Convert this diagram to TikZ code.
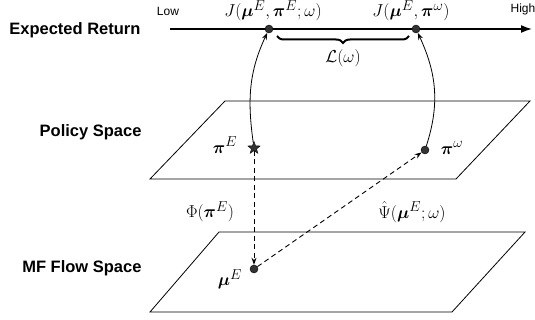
\documentclass[tikz,border=0pt]{standalone}
\usepackage{amsmath,amssymb}
\usepackage{fontspec}
\setsansfont{Liberation Sans}
\usetikzlibrary{arrows.meta,positioning,calc,shapes.geometric,decorations.pathreplacing}

\begin{document}
\begin{tikzpicture}[
  x=1pt, y=-1pt,
  rowlabel/.style={anchor=east, font=\sffamily\bfseries\fontsize{16.5}{18}\selectfont},
  endlabel/.style={font=\sffamily\fontsize{12}{14}\selectfont},
  mathlabel/.style={font=\fontsize{19}{21}\selectfont},
  dot/.style={circle, fill=black!80, draw=black, minimum size=8pt, inner sep=0pt},
  starpt/.style={star, star points=5, star point ratio=2.4, fill=black!80, draw=black, minimum size=13pt, inner sep=0pt},
  plane/.style={draw, line width=0.8pt},
  arrow/.style={-{Stealth[length=7pt,width=5pt]}, line width=0.8pt},
  dasharrow/.style={-{Stealth[length=7pt,width=5pt]}, line width=0.9pt, dash pattern=on 5pt off 3.5pt}
]
\useasboundingbox (0,0) rectangle (535,320);

% expected return axis
\coordinate (axstart) at (170,29);
\coordinate (axend) at (532,29);
\draw[line width=1.6pt, -{Latex[length=11pt,width=8pt]}] (axstart) -- (axend);
\node[rowlabel] (ret) at (144,30) {Expected Return};
\node[endlabel] (low) at (168,11) {Low};
\node[endlabel] (high) at (523,9) {High};
\node[dot] (jexp) at (269,29) {};
\node[dot] (jpol) at (416,29) {};
\node[mathlabel] (jexplab) at (273,11) {$J(\boldsymbol{\mu}^E,\boldsymbol{\pi}^E;\omega)$};
\node[mathlabel] (jpollab) at (411,11) {$J(\boldsymbol{\mu}^E,\boldsymbol{\pi}^\omega)$};
\draw[line width=2pt, decorate, decoration={brace, mirror, amplitude=7pt}] (277,36) -- (409,36);
\node[mathlabel] (loss) at (343,58) {$\mathcal{L}(\omega)$};

% policy space
\node[rowlabel] (pol) at (145,132) {Policy Space};
\draw[plane] (225,101) -- (530,101) -- (456,179) -- (150,179) -- cycle;
\node[starpt] (piexp) at (254,148) {};
\node[dot] (pinew) at (425,150) {};
\node[mathlabel] (piexplab) at (225,145) {$\boldsymbol{\pi}^E$};
\node[mathlabel] (pinewlab) at (452,148) {$\boldsymbol{\pi}^\omega$};

% mean-field flow space
\node[rowlabel] (flow) at (145,268) {MF Flow Space};
\draw[plane] (219,232) -- (525,232) -- (452,312) -- (150,312) -- cycle;
\node[dot] (muexp) at (254,269) {};
\node[mathlabel] (muexplab) at (230,279) {$\boldsymbol{\mu}^E$};

% maps
\draw[arrow] (piexp) to[out=98, in=245] (jexp);
\draw[arrow] (pinew) to[out=72, in=295] (jpol);
\draw[dasharrow] (piexp) -- (muexp);
\draw[dasharrow] (muexp) -- (pinew);
\node[mathlabel] (philab) at (210,212) {$\Phi(\boldsymbol{\pi}^E)$};
\node[mathlabel] (psilab) at (412,212) {$\hat{\Psi}(\boldsymbol{\mu}^E;\omega)$};
\end{tikzpicture}
\end{document}
